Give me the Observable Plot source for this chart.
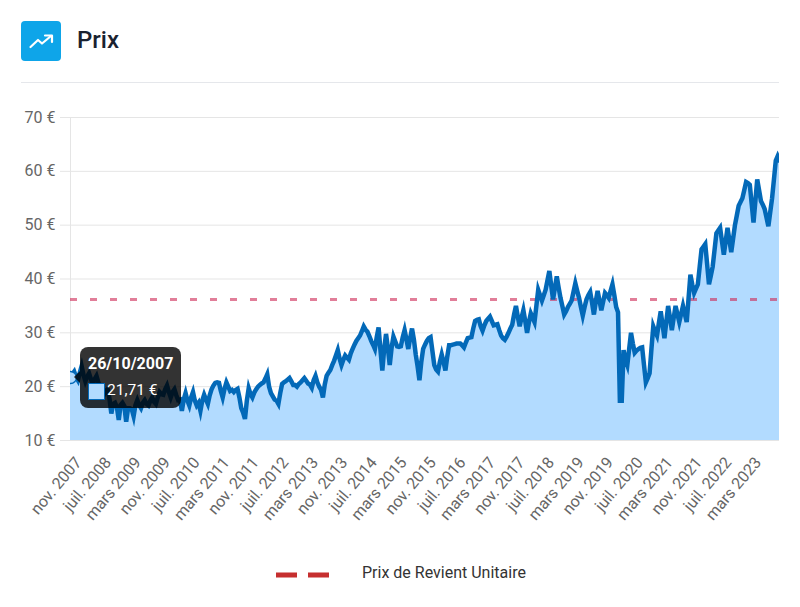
<!DOCTYPE html>
<html lang="fr">
<head>
<meta charset="utf-8">
<script src="https://cdn.jsdelivr.net/npm/d3@7"></script>
<script src="https://cdn.jsdelivr.net/npm/@observablehq/plot@0.6"></script>
<style>
html,body{margin:0;padding:0;background:#fff;font-family:Roboto,sans-serif;}
#page{position:relative;width:800px;height:607px;overflow:hidden;}
#icon{position:absolute;left:21px;top:21px;width:40px;height:40px;background:#0ea5e9;border-radius:4px;}
#title{position:absolute;left:77px;top:25px;font-size:24px;line-height:30px;font-weight:500;color:#1a2230;}
#sep{position:absolute;left:21px;top:82px;width:758px;height:1px;background:#e5e7eb;}
#chart{position:absolute;left:0;top:100px;}
#tip{position:absolute;left:80px;top:347px;width:101px;height:61px;background:rgba(0,0,0,.8);border-radius:8px;color:#fff;}
#tip:before{content:"";position:absolute;left:-6px;top:24px;border:6px solid transparent;border-left:0;border-right-color:rgba(0,0,0,.8);}
#tipT{position:absolute;left:8px;top:7px;font-size:16px;line-height:20px;font-weight:700;white-space:nowrap;}
#tipS{position:absolute;left:7.5px;top:36px;width:15px;height:15px;background:#b2dbff;border:1px solid #0369b8;}
#tipV{position:absolute;left:27px;top:33px;font-size:15.5px;line-height:20px;white-space:nowrap;}
#legDash{position:absolute;left:276px;top:572px;}
#legText{position:absolute;left:362px;top:563px;font-size:16px;line-height:20px;color:#333;white-space:nowrap;}
</style>
</head>
<body>
<div id="page">
  <div id="icon"><svg width="40" height="40" viewBox="0 0 40 40"><path d="M9.5 26 L17 19 L21 22.5 L30 15" fill="none" stroke="#fff" stroke-width="2.2" stroke-linecap="round" stroke-linejoin="round"/><path d="M24 14.5 L31 14.5 L31 21" fill="none" stroke="#fff" stroke-width="2.2" stroke-linecap="round" stroke-linejoin="round"/></svg></div>
  <div id="title">Prix</div>
  <div id="sep"></div>
  <div id="chart"></div>
  <div id="tip"><div id="tipT">26/10/2007</div><div id="tipS"></div><div id="tipV">21,71 €</div></div>
  <svg id="legDash" width="60" height="6"><line x1="0" x2="53" y1="3" y2="3" stroke="#c62f2f" stroke-width="5" stroke-dasharray="21 11"/></svg>
  <div id="legText">Prix de Revient Unitaire</div>
</div>
<script>
const prices = [
21.71,22.3,22.8,21.8,21.2,22.6,23.8,22.2,21,21.9,22.5,21.4,20.5,21.4,22,20.8,19.5,19.2,18.5,19.2,
19.5,17.8,15,16.8,17,16.2,13.8,16.6,17,16.4,13.5,16,16,15.8,14.5,16.6,17.5,16.6,16,17,
17.5,16.8,16.5,17.4,18,17.2,16.8,18,19,18.6,18.5,19.5,20.2,19,18,19,19.5,18.4,17.5,17.6,
15.5,17.6,18.8,17.4,16.5,18,19,17.4,16.5,17,15.5,17.4,18.5,17.6,16.8,18.4,19.5,20.2,20.7,20.8,
20.7,19.2,18,19.6,20.8,20,19.2,19.4,19,19.4,19.6,18,16,15.2,14,17.4,19.7,18.6,18,18.9,
19.5,20,20.3,20.6,20.8,21.5,22.3,20,18.8,18.2,17.6,17.4,16.8,18.8,20.5,20.8,21,21.3,21.6,21,
20.3,20.3,20,20.5,20.8,21.2,21.6,21.1,20.6,20.4,19.8,21.2,22,20.8,20,19.4,18,20.4,22,22.6,
23.1,24,24.8,25.8,26.8,25.2,24,25,25.8,25.4,25,26.2,27,27.8,28.5,29,29.5,30.3,31.2,30.6,
30.2,29.4,28.5,27.8,27,29.2,31,26.8,23,27,29.8,27.2,24,27.2,29.3,28.4,27.5,27.4,27.5,29.2,
30.5,28.8,27,29,30.8,28.8,26,23.8,21.2,24.6,27,27.8,28.5,29,29.2,26.6,24,23.2,22.8,24.6,
26,24.6,23,25.6,27.7,27.7,27.8,27.9,28,28,28,27.7,27.3,28.2,29,29.1,29.2,30.8,32.2,32.4,
32.5,31.2,30.4,31.4,32.2,32.6,33,32.2,31.4,31.5,31.6,30.5,29.5,29,28.7,29.3,30,30.8,31.5,33.4,
35,33,31.2,32.8,34.2,32.2,30,32,33.6,32.8,32,35,38,37,36,37,38,39.8,41.5,38.8,
36.2,38.4,40.5,38.4,36.5,35,33.4,34,34.8,35.4,36,37.6,39.2,37.8,36.5,34.8,33.2,34.8,36.2,37,
37.6,35.6,33.4,35.8,37.8,36,34.2,35.8,37.4,37,36.5,37.8,39,37,34.8,33.8,17.4,17.4,26.8,25,
24,27,30,28,26.3,26.7,27,27.2,27.3,24,20.8,21.6,22.5,27,31.2,30.3,29.5,31.8,34,31.5,
29,32,35,32.8,30.5,32.8,35,33.5,32,33.5,35,33.5,32,36.4,40.8,39,37.4,38.2,39,42.3,
45.5,46,46.5,42.8,39,40.6,42.3,45.4,48.5,49,49.5,47,44.5,47,49.5,47.2,45,47.5,50,51.8,
53.6,54.3,55,56.5,58,57.8,57.5,54,50.5,54.5,58.5,56.5,54.5,53.8,53,51.4,49.8,52.4,55,58.5,
62,62.8,62
];
const prixRevient = 36.2;
const yTicks = [10,20,30,40,50,60,70];
const xLabels = ["nov. 2007","juil. 2008","mars 2009","nov. 2009","juil. 2010","mars 2011","nov. 2011","juil. 2012","mars 2013","nov. 2013","juil. 2014","mars 2015","nov. 2015","juil. 2016","mars 2017","nov. 2017","juil. 2018","mars 2019","nov. 2019","juil. 2020","mars 2021","nov. 2021","juil. 2022","mars 2023"];

const start = new Date(Date.UTC(2007,9,26));
const rows = prices.map((v,i)=>({date:new Date(+start+i*15.3*864e5),v}));
const xTicks = xLabels.map((_,i)=>d3.utcMonth.offset(start,i*8));

const plot = Plot.plot({
  width:800,height:440,
  marginLeft:70,marginRight:21,marginTop:17,marginBottom:100,
  style:{fontFamily:"Roboto, sans-serif",fontSize:"16px",background:"transparent",overflow:"visible"},
  x:{type:"utc",domain:[rows[0].date,rows[rows.length-1].date]},
  y:{domain:[10,70]},
  marks:[
    Plot.ruleY(yTicks,{stroke:"#e5e5e5",strokeWidth:1,insetLeft:-10}),
    Plot.ruleX([rows[0].date],{stroke:"#e5e5e5",strokeWidth:1}),
    Plot.axisY({ticks:yTicks,tickSize:0,tickPadding:15,tickFormat:d=>d+" €",fill:"#666",label:null,fontSize:16}),
    Plot.axisX({ticks:xTicks,tickSize:0,tickPadding:8,tickRotate:-50,textAnchor:"end",dx:8,dy:11,fill:"#666",label:null,fontSize:16,tickFormat:(d,i)=>xLabels[i]}),
    Plot.areaY(rows,{x:"date",y1:()=>10,y2:"v",fill:"#b2dbff",fillOpacity:1}),
    Plot.ruleY([prixRevient],{stroke:"rgba(205,40,85,.6)",strokeWidth:3,strokeDasharray:"7 13"}),
    Plot.line(rows,{x:"date",y:"v",stroke:"#0369b8",strokeWidth:4.5,strokeLinejoin:"miter",strokeMiterlimit:5,clip:true}),
    Plot.dot([rows[0]],{x:"date",y:"v",r:6,fill:"#b2dbff",stroke:"#0369b8",strokeWidth:1.5,clip:true})
  ]
});
document.getElementById("chart").appendChild(plot);
</script>
</body>
</html>
